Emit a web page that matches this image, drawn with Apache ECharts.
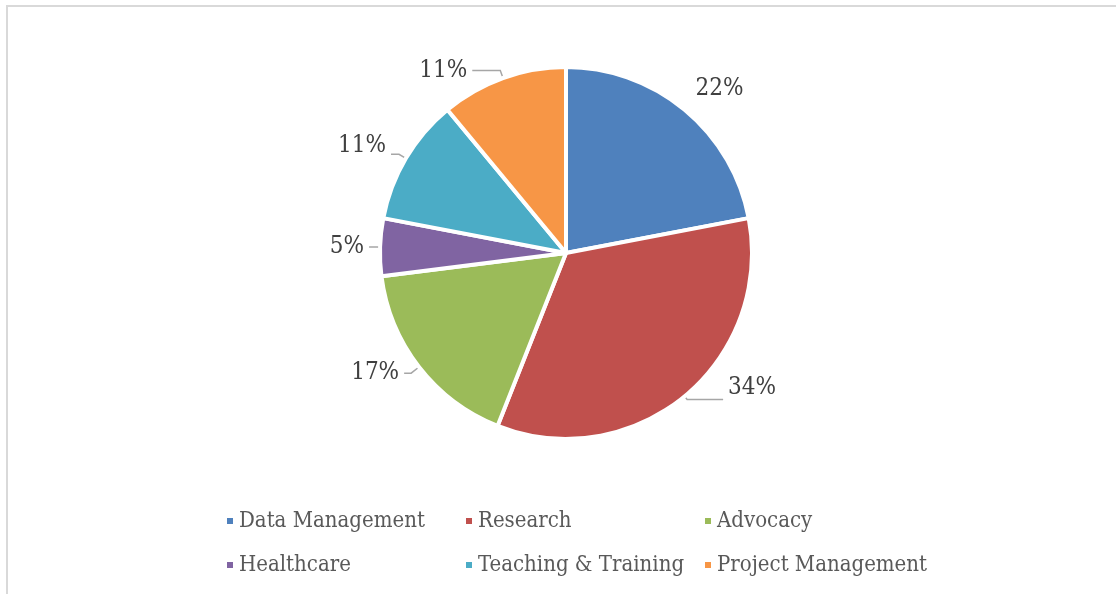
<!DOCTYPE html>
<html>
<head>
<meta charset="utf-8">
<script src="https://cdn.jsdelivr.net/npm/echarts@6/dist/echarts.min.js"></script>
<style>
  html, body { margin: 0; padding: 0; background: #fff; }
  #chart { width: 1116px; height: 594px; }
</style>
</head>
<body>
<div id="chart"></div>
<script>
const categories = ['Data Management', 'Research', 'Advocacy', 'Healthcare', 'Teaching & Training', 'Project Management'];
const shares = [22, 34, 17, 5, 11, 11];
const colors = ['#4F81BD', '#C0504D', '#9BBB59', '#8064A2', '#4BACC6', '#F79646'];

const serif = "'DejaVu Serif Condensed', 'DejaVu Serif', serif";

// leader line look per slice, roughly as Excel placed them
const leaderStyle = [
  { show: false, length: 22, length2: 0, dx: -8, dy: -4 },
  { show: true, length: 4, length2: 36, dx: 0, dy: -12 },
  { show: true, length: 10, length2: 7, dx: 0, dy: 0 },
  { show: true, length: 3, length2: 8, dx: 0, dy: 0 },
  { show: true, length: 8, length2: 8, dx: 0, dy: -8 },
  { show: true, length: 8, length2: 28, dx: 0, dy: 0 }
];

const pieData = categories.map((name, i) => ({
  name: name,
  value: shares[i],
  itemStyle: { color: colors[i] },
  labelLine: {
    show: leaderStyle[i].show,
    length: leaderStyle[i].length,
    length2: leaderStyle[i].length2
  }
}));

const chart = echarts.init(document.getElementById('chart'));

chart.setOption({
  animation: false,
  graphic: [{
    type: 'rect',
    shape: { x: 7, y: 6, width: 1300, height: 800 },
    style: { fill: 'none', stroke: '#d9d9d9', lineWidth: 2 },
    silent: true
  }],
  legend: {
    data: categories,
    left: 225,
    top: 504,
    width: 720,
    padding: 0,
    orient: 'horizontal',
    icon: 'rect',
    itemWidth: 8,
    itemHeight: 8,
    itemGap: 10,
    textStyle: {
      fontFamily: serif,
      fontSize: 22,
      color: '#595959',
      width: 215,
      lineHeight: 34
    }
  },
  series: [{
    type: 'pie',
    center: [566, 253],
    radius: 186,
    startAngle: 90,
    clockwise: true,
    data: pieData,
    itemStyle: { borderColor: '#ffffff', borderWidth: 4 },
    label: {
      show: true,
      position: 'outside',
      formatter: '{c}%',
      fontFamily: serif,
      fontSize: 24,
      color: '#404040'
    },
    labelLine: {
      show: true,
      lineStyle: { color: '#a6a6a6', width: 1.5 }
    },
    labelLayout: function (params) {
      const s = leaderStyle[params.dataIndex];
      return { dx: s.dx, dy: s.dy };
    },
    emphasis: { disabled: true }
  }]
});
</script>
</body>
</html>
